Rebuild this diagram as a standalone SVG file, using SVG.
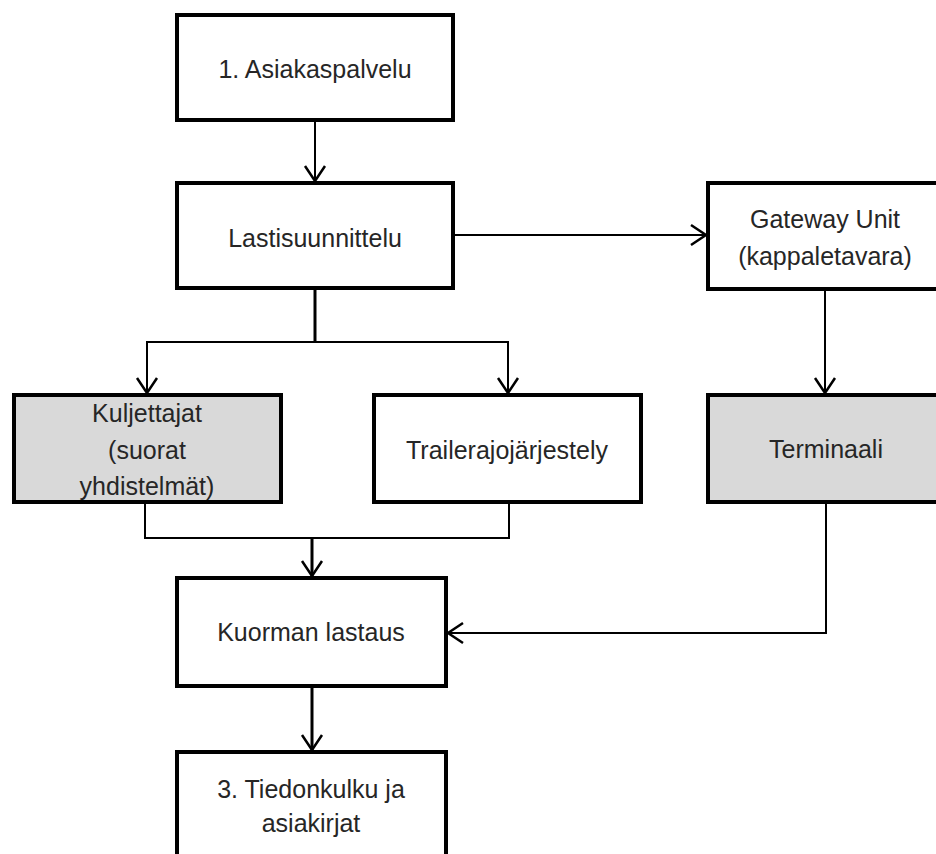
<svg xmlns="http://www.w3.org/2000/svg" width="936" height="854" viewBox="0 0 936 854">
  <style>
    .box { fill: #ffffff; stroke: #000000; stroke-width: 4; }
    .box.grey { fill: #d9d9d9; }
    .lbl { font-family: "Liberation Sans", Arial, sans-serif; font-size: 25px; fill: #262626; text-anchor: middle; }
    .wire { fill: none; stroke: #000000; stroke-width: 2; }
    .wire.heavy { stroke-width: 3; }
  </style>
  <defs>
    <marker id="head" markerUnits="userSpaceOnUse" markerWidth="24" markerHeight="26" refX="0" refY="0" viewBox="-18 -13 20 26" orient="auto" overflow="visible">
      <path d="M-15,-10 L0,0 L-15,10" fill="none" stroke="#000000" stroke-width="2.5"/>
    </marker>
  </defs>

  <rect width="936" height="854" fill="#ffffff"/>

  <!-- connectors -->
  <g id="connectors">
    <path class="wire" d="M315,122 V181" marker-end="url(#head)"/>
    <path class="wire" d="M455,235 H706" marker-end="url(#head)"/>
    <path class="wire heavy" d="M315,290 V342"/>
    <path class="wire" d="M146,342 H509"/>
    <path class="wire" d="M147,342 V393" marker-end="url(#head)"/>
    <path class="wire" d="M508,342 V393" marker-end="url(#head)"/>
    <path class="wire" d="M145,504 V538 H509 V504"/>
    <path class="wire heavy" d="M312,538 V576" marker-end="url(#head)"/>
    <path class="wire" d="M825,291 V393" marker-end="url(#head)"/>
    <path class="wire" d="M826,504 V633 H448" marker-end="url(#head)"/>
    <path class="wire heavy" d="M312,688 V750" marker-end="url(#head)"/>
  </g>

  <g id="asiakaspalvelu">
    <rect class="box" x="177" y="15" width="276" height="105"/>
    <text class="lbl" x="315" y="78">1. Asiakaspalvelu</text>
  </g>

  <g id="lastisuunnittelu">
    <rect class="box" x="177" y="183" width="276" height="105"/>
    <text class="lbl" x="315" y="247">Lastisuunnittelu</text>
  </g>

  <g id="gateway-unit">
    <rect class="box" x="708" y="183" width="234" height="106"/>
    <text class="lbl" x="825" y="228">Gateway Unit</text>
    <text class="lbl" x="825" y="265">(kappaletavara)</text>
  </g>

  <g id="kuljettajat">
    <rect class="box grey" x="14" y="395" width="267" height="107"/>
    <text class="lbl" x="147" y="422">Kuljettajat</text>
    <text class="lbl" x="147" y="459">(suorat</text>
    <text class="lbl" x="147" y="495">yhdistelmät)</text>
  </g>

  <g id="trailerajojarjestely">
    <rect class="box" x="374" y="395" width="267" height="107"/>
    <text class="lbl" x="507" y="459">Trailerajojärjestely</text>
  </g>

  <g id="terminaali">
    <rect class="box grey" x="708" y="395" width="234" height="107"/>
    <text class="lbl" x="826" y="458">Terminaali</text>
  </g>

  <g id="kuorman-lastaus">
    <rect class="box" x="177" y="578" width="269" height="108"/>
    <text class="lbl" x="311" y="641">Kuorman lastaus</text>
  </g>

  <g id="tiedonkulku">
    <rect class="box" x="177" y="752" width="269" height="120"/>
    <text class="lbl" x="311" y="798">3. Tiedonkulku ja</text>
    <text class="lbl" x="311" y="832">asiakirjat</text>
  </g>
</svg>
